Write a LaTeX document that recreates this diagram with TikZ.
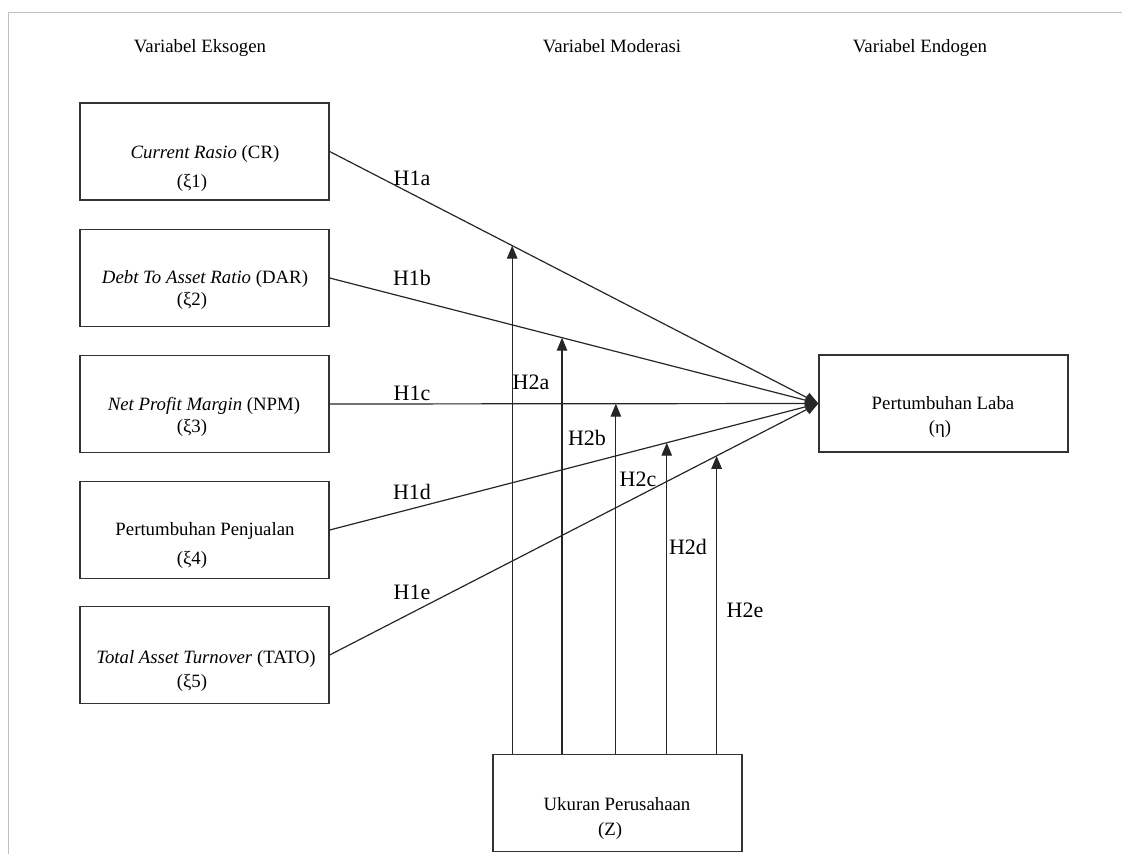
\documentclass[tikz,border=0pt]{standalone}
\usepackage{fontspec}
\setmainfont{Liberation Serif}
\usetikzlibrary{arrows.meta,calc}

\begin{document}
\begin{tikzpicture}[x=1pt,y=1pt,yscale=-1,xscale=1,
  box/.style={draw=black!80, line width=1.3pt, minimum width=249pt, minimum height=97pt, inner sep=0pt},
  txt/.style={anchor=base, inner sep=0pt, font=\fontsize{18.8}{22}\selectfont},
  hyp/.style={inner sep=0pt, font=\fontsize{22}{26}\selectfont},
  arr/.style={draw=black!85, line width=1.2pt, -{Triangle[length=13pt,width=10.5pt]}}]
\useasboundingbox (0,0) rectangle (1122,854);

%Page frame
\draw [color=black!25, line width=1pt] (1122,12) -- (8,12) -- (8,854) ;

% Text Node
\node [txt] (hEks) at (200,52) {Variabel Eksogen};
% Text Node
\node [txt] (hMod) at (612,52) {Variabel Moderasi};
% Text Node
\node [txt] (hEnd) at (920,52) {Variabel Endogen};

%Shape: Rectangle
\node [box] (cr) at (204.5,151.5) {};
\node [box] (dar) at (204.5,278) {};
\node [box] (npm) at (204.5,404) {};
\node [box] (pp) at (204.5,530) {};
\node [box] (tato) at (204.5,655) {};
\node [box] (eta) at (943.5,403.5) {};
\node [box] (z) at (617.5,803) {};

% Text Node
\node [txt] (crA) at (205,158) {\textit{Current Rasio} (CR)};
\node [txt] (crB) at (192,187) {(ξ1)};
\node [txt] (darA) at (205,283) {\textit{Debt To Asset Ratio} (DAR)};
\node [txt] (darB) at (192,305) {(ξ2)};
\node [txt] (npmA) at (204,410) {\textit{Net Profit Margin} (NPM)};
\node [txt] (npmB) at (192,432) {(ξ3)};
\node [txt] (ppA) at (205,535) {Pertumbuhan Penjualan};
\node [txt] (ppB) at (192,564) {(ξ4)};
\node [txt] (tatoA) at (206,663) {\textit{Total Asset Turnover} (TATO)};
\node [txt] (tatoB) at (192,687) {(ξ5)};
\node [txt] (etaA) at (943,409) {Pertumbuhan Laba};
\node [txt] (etaB) at (940,433) {(η)};
\node [txt] (zA) at (617,810) {Ukuran Perusahaan};
\node [txt] (zB) at (610,835) {(Z)};

%Straight Lines
\draw [arr] (cr.east) -- (eta.west) ;
\draw [arr] (dar.east) -- (eta.west) ;
\draw [arr] (npm.east) -- (eta.west) ;
\draw [arr] (pp.east) -- (eta.west) ;
\draw [arr] (tato.east) -- (eta.west) ;

%Points on the lines
\coordinate (pa) at ($(cr.east)!0.3735!(eta.west)$) ;
\coordinate (pb) at ($(dar.east)!0.4755!(eta.west)$) ;
\coordinate (pc) at ($(npm.east)!0.5857!(eta.west)$) ;
\coordinate (pd) at ($(pp.east)!0.6898!(eta.west)$) ;
\coordinate (pe) at ($(tato.east)!0.7918!(eta.west)$) ;

%Straight Lines
\draw [arr] (pa |- z.north) -- (pa) ;
\draw [arr] (pb |- z.north) -- (pb) ;
\draw [arr] (pc |- z.north) -- (pc) ;
\draw [arr] (pd |- z.north) -- (pd) ;
\draw [arr] (pe |- z.north) -- (pe) ;

% Text Node
\node [hyp] (h1a) at (412,178) {H1a};
\node [hyp] (h1b) at (412,278) {H1b};
\node [hyp] (h1c) at (412,393) {H1c};
\node [hyp] (h1d) at (412,492) {H1d};
\node [hyp] (h1e) at (412,592) {H1e};
% Text Node
\node [hyp] (h2a) at (531,382) {H2a};
\node [hyp] (h2b) at (587,438) {H2b};
\node [hyp] (h2c) at (638,479) {H2c};
\node [hyp] (h2d) at (688,547) {H2d};
\node [hyp] (h2e) at (745,610) {H2e};

\end{tikzpicture}
\end{document}
